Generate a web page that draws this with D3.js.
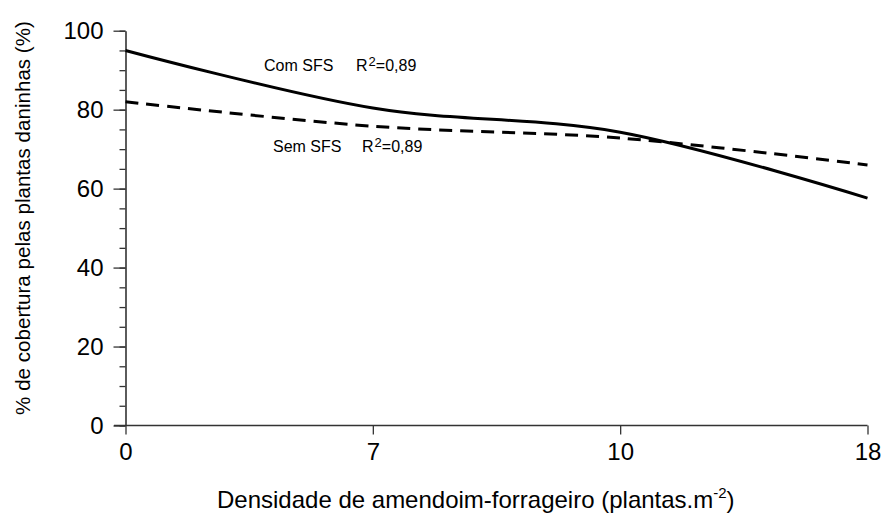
<!DOCTYPE html>
<html>
<head>
    <style>
        body { margin: 0; background: #fff; }
        svg text { font-family: Arial, "Liberation Sans", sans-serif; fill: #000; }
        .tick-label { font-size: 24px; }
        .x-title { font-size: 24px; }
        .y-title { font-size: 20.6px; }
        .note { font-size: 16px; }
    </style>
    <script src="https://d3js.org/d3.v7.min.js"></script>
</head>
<body>
    <div id="chart"></div>

    <script>
        // Chart values
        const densities = ["0", "7", "10", "18"];
        const comSFS = [95, 80.4, 74.3, 57.6];
        const semSFS = [82, 75.8, 72.8, 66];
        const yTicks = [0, 20, 40, 60, 80, 100];
        const yMinorTicks = d3.range(0, 101, 5);

        const width = 882, height = 516;

        const svg = d3.select("#chart").append("svg")
            .attr("width", width)
            .attr("height", height);

        const x = d3.scalePoint()
            .domain(densities)
            .range([125.5, 867.5]);

        const y = d3.scaleLinear()
            .domain([0, 100])
            .range([425.5, 30.7]);

        // minor ticks on y axis
        svg.append("g")
            .attr("transform", "translate(125.5,0)")
            .call(d3.axisLeft(y).tickValues(yMinorTicks).tickSize(6).tickFormat(""))
            .call(g => g.select(".domain").remove())
            .selectAll("line").attr("stroke", "#333").attr("stroke-width", 1.3);

        // major y axis
        const yAxis = svg.append("g")
            .attr("transform", "translate(125.5,0)")
            .call(d3.axisLeft(y).tickValues(yTicks).tickSize(12).tickPadding(10).tickSizeOuter(0));
        yAxis.select(".domain").attr("stroke", "#333").attr("stroke-width", 1.6);
        yAxis.selectAll("line").attr("stroke", "#333").attr("stroke-width", 1.3);
        yAxis.selectAll("text").attr("class", "tick-label").attr("font-size", null).attr("font-family", null);

        // x axis
        const xAxis = svg.append("g")
            .attr("transform", "translate(0,425.5)")
            .call(d3.axisBottom(x).tickSize(9).tickPadding(8).tickSizeOuter(0));
        xAxis.select(".domain").attr("stroke", "#333").attr("stroke-width", 1.6)
            .attr("d", `M114,0H${x("18")}`);
        xAxis.selectAll("line").attr("stroke", "#333").attr("stroke-width", 1.3);
        xAxis.selectAll("text").attr("class", "tick-label").attr("font-size", null).attr("font-family", null);

        // lines
        const line = d3.line()
            .x((d, i) => x(densities[i]))
            .y(d => y(d))
            .curve(d3.curveCardinal.tension(0));

        svg.append("path")
            .datum(comSFS)
            .attr("d", line)
            .attr("fill", "none")
            .attr("stroke", "#000")
            .attr("stroke-width", 3);

        svg.append("path")
            .datum(semSFS)
            .attr("d", line)
            .attr("fill", "none")
            .attr("stroke", "#000")
            .attr("stroke-width", 3)
            .attr("stroke-dasharray", "13,8");

        // annotations
        svg.append("text").attr("class", "note").attr("x", 264).attr("y", 71).text("Com SFS");
        const r1 = svg.append("text").attr("class", "note").attr("x", 356).attr("y", 71);
        r1.append("tspan").text("R");
        r1.append("tspan").attr("dx", 1).attr("dy", -5).attr("font-size", 13).text("2");
        r1.append("tspan").attr("dy", 5).text("=0,89");

        svg.append("text").attr("class", "note").attr("x", 273).attr("y", 152).text("Sem SFS");
        const r2 = svg.append("text").attr("class", "note").attr("x", 362).attr("y", 152);
        r2.append("tspan").text("R");
        r2.append("tspan").attr("dx", 1).attr("dy", -5).attr("font-size", 13).text("2");
        r2.append("tspan").attr("dy", 5).text("=0,89");

        // axis titles
        const xt = svg.append("text")
            .attr("class", "x-title")
            .attr("x", 217)
            .attr("y", 508);
        xt.append("tspan").text("Densidade de amendoim-forrageiro (plantas.m");
        xt.append("tspan").attr("dy", -10).attr("font-size", 15).text("-2");
        xt.append("tspan").attr("dy", 10).text(")");

        svg.append("text")
            .attr("class", "y-title")
            .attr("transform", "translate(30,218) rotate(-90)")
            .attr("text-anchor", "middle")
            .text("% de cobertura pelas plantas daninhas (%)");
    </script>
</body>
</html>
